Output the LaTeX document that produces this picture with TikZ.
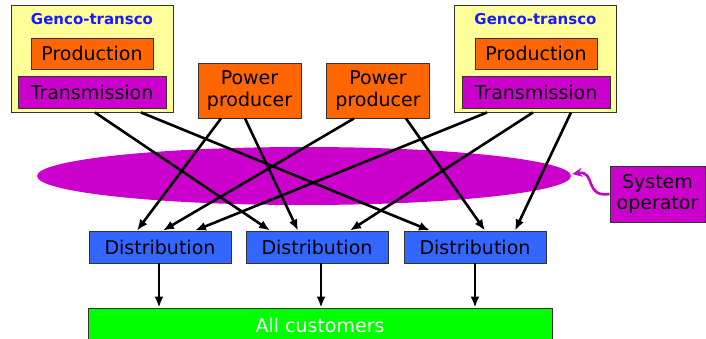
\documentclass[tikz,border=0pt]{standalone}
\usepackage{fontspec}
\setmainfont{DejaVu Sans}
\usetikzlibrary{arrows.meta,shapes.geometric}
\definecolor{gencoyellow}{HTML}{FFFF99}
\definecolor{prodorange}{HTML}{FF6600}
\definecolor{transmagenta}{HTML}{CC00CC}
\definecolor{distblue}{HTML}{3366FF}
\definecolor{custgreen}{HTML}{00FF00}
\definecolor{titleblue}{HTML}{1A1AFF}
\begin{document}
\begin{tikzpicture}[
            x=1pt, y=-1pt,
            box/.style={draw=black!80, line width=0.9pt, inner sep=0pt, align=center, font=\fontsize{19}{21}\selectfont},
            genco/.style={box, fill=gencoyellow, minimum width=162pt, minimum height=107pt},
            prod/.style={box, fill=prodorange, minimum width=122pt, minimum height=31pt},
            trans/.style={box, fill=transmagenta, minimum width=148pt, minimum height=32pt},
            pp/.style={box, fill=prodorange, minimum width=103pt, minimum height=55pt, font=\fontsize{19}{22}\selectfont},
            dist/.style={box, fill=distblue, minimum width=142pt, minimum height=32pt},
            title/.style={text=titleblue, font=\fontsize{15}{17}\selectfont\bfseries},
            link/.style={line width=2.6pt, -{Latex[length=11pt,width=9pt]}}
        ]
        \useasboundingbox (0,0) rectangle (706,339);

        % system operator ellipse
        \node[ellipse, fill=transmagenta, minimum width=534pt, minimum height=58pt, inner sep=0pt] (market) at (304,176) {};

        % Genco-transco, left and right
        \node[genco] (gL) at (92,58.5) {};
        \node[title] at (92,19) {Genco-transco};
        \node[prod] (prodL) at (92,53.5) {Production};
        \node[trans] (transL) at (92,92) {Transmission};

        \node[genco] (gR) at (535.5,58.5) {};
        \node[title] at (535.5,19) {Genco-transco};
        \node[prod] (prodR) at (536,53.5) {Production};
        \node[trans] (transR) at (536,92) {Transmission};

        % power producers
        \node[pp] (pp1) at (249.5,90.5) {Power\\producer};
        \node[pp] (pp2) at (378,90.5) {Power\\producer};

        % distribution and customers
        \node[dist] (d1) at (160,247) {Distribution};
        \node[dist] (d2) at (317,247) {Distribution};
        \node[dist] (d3) at (475,247) {Distribution};
        \node[box, fill=custgreen, text=white, minimum width=464pt, minimum height=34pt] (cust) at (320,325) {All customers};

        \node[box, fill=transmagenta, minimum width=95pt, minimum height=56pt] (sysop) at (657.5,194) {System\\operator};

        % links into distribution
        \draw[link] ([xshift=3pt]gL.south) -- ([xshift=-47pt]d2.north);
        \draw[link] ([xshift=49pt]gL.south) -- ([xshift=-45pt]d3.north);
        \draw[link] ([xshift=-28.5pt]pp1.south) -- ([xshift=-23pt]d1.north);
        \draw[link] ([xshift=-4.5pt]pp1.south) -- ([xshift=-19pt]d2.north);
        \draw[link] ([xshift=-24pt]pp2.south) -- ([xshift=3pt]d1.north);
        \draw[link] ([xshift=28pt]pp2.south) -- ([xshift=10pt]d3.north);
        \draw[link] ([xshift=-48.5pt]gR.south) -- ([xshift=35pt]d1.north);
        \draw[link] ([xshift=-2.5pt]gR.south) -- ([xshift=33pt]d2.north);
        \draw[link] ([xshift=35.5pt]gR.south) -- ([xshift=40pt]d3.north);

        % links to customers
        \draw[link] ([xshift=-1pt]d1.south) -- ([xshift=-1pt]d1.south |- cust.north);
        \draw[link] ([xshift=4pt]d2.south) -- ([xshift=4pt]d2.south |- cust.north);
        \draw[link] (d3.south) -- (d3.south |- cust.north);

        % operator arrow
        \draw[transmagenta, line width=2.6pt, -{Stealth[length=10pt,width=9pt]}] (sysop.west) .. controls (584,198) and (596,170) .. ([xshift=1pt,yshift=2pt]market.east);

        \end{tikzpicture}
\end{document}
